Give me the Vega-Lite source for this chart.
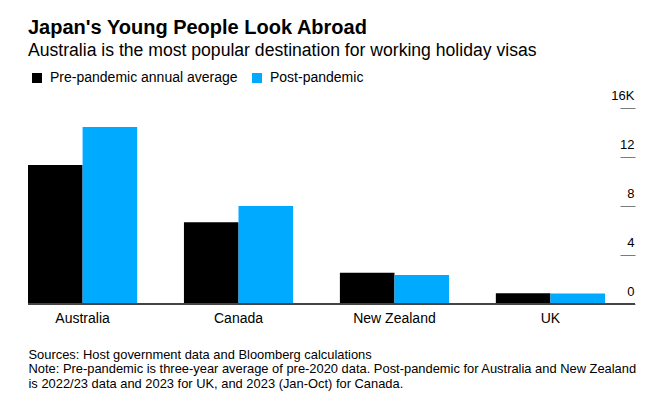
{
  "$schema": "https://vega.github.io/schema/vega-lite/v6.json",
  "width": 607,
  "height": 196,
  "autosize": {"type": "none"},
  "padding": {"left": 28, "top": 108, "right": 21, "bottom": 92},
  "background": "white",
  "title": {
    "text": "Japan's Young People Look Abroad",
    "subtitle": "Australia is the most popular destination for working holiday visas",
    "anchor": "start",
    "frame": "group",
    "offset": 11,
    "font": "Liberation Sans",
    "fontSize": 20,
    "fontWeight": "bold",
    "color": "#000000",
    "subtitleFont": "Liberation Sans",
    "subtitleFontSize": 17.6,
    "subtitleColor": "#000000",
    "subtitlePadding": 4
  },
  "data": {
    "values": [
      {"country": "Australia", "period": "Pre-pandemic annual average", "value": 11.35},
      {"country": "Australia", "period": "Post-pandemic", "value": 14.45},
      {"country": "Canada", "period": "Pre-pandemic annual average", "value": 6.67},
      {"country": "Canada", "period": "Post-pandemic", "value": 8.0},
      {"country": "New Zealand", "period": "Pre-pandemic annual average", "value": 2.55},
      {"country": "New Zealand", "period": "Post-pandemic", "value": 2.37},
      {"country": "UK", "period": "Pre-pandemic annual average", "value": 0.87},
      {"country": "UK", "period": "Post-pandemic", "value": 0.85}
    ]
  },
  "layer": [
    {
      "mark": {"type": "bar"},
      "encoding": {
        "x": {
          "field": "country",
          "type": "nominal",
          "sort": ["Australia", "Canada", "New Zealand", "UK"],
          "scale": {"range": [0, 577], "paddingInner": 0.3, "paddingOuter": 0},
          "axis": {
            "title": [
              "Sources: Host government data and Bloomberg calculations",
              "Note: Pre-pandemic is three-year average of pre-2020 data. Post-pandemic for Australia and New Zealand",
              "is 2022/23 data and 2023 for UK, and 2023 (Jan-Oct) for Canada."
            ],
            "orient": "bottom",
            "domain": false,
            "ticks": false,
            "grid": false,
            "labelAngle": 0,
            "labelPadding": 7,
            "labelFont": "Liberation Sans",
            "labelFontSize": 14,
            "labelColor": "#000000",
            "titleFont": "Liberation Sans",
            "titleFontSize": 12.9,
            "titleFontWeight": "normal",
            "titleColor": "#000000",
            "titleAnchor": "start",
            "titleAlign": "left",
            "titleX": 0,
            "titleY": 54,
            "titleBaseline": "alphabetic",
            "titleLineHeight": 14.5,
            "titleLimit": 0
          }
        },
        "xOffset": {
          "field": "period",
          "type": "nominal",
          "sort": ["Pre-pandemic annual average", "Post-pandemic"],
          "scale": {"paddingInner": 0, "paddingOuter": 0}
        },
        "y": {
          "field": "value",
          "type": "quantitative",
          "scale": {"domain": [0, 16], "nice": false},
          "axis": {
            "orient": "right",
            "title": null,
            "values": [0, 4, 8, 12, 16],
            "domain": false,
            "grid": false,
            "tickSize": -15,
            "tickColor": "#7a7a7a",
            "tickWidth": 1,
            "labelAlign": "right",
            "labelBaseline": "alphabetic",
            "labelOffset": -9,
            "labelPadding": 14,
            "labelFont": "Liberation Sans",
            "labelFontSize": 13,
            "labelColor": "#000000",
            "labelExpr": "datum.value == 16 ? '16K' : datum.label"
          }
        },
        "color": {
          "field": "period",
          "type": "nominal",
          "scale": {
            "domain": ["Pre-pandemic annual average", "Post-pandemic"],
            "range": ["#000000", "#00aaff"]
          },
          "legend": {
            "orient": "none",
            "legendX": 2,
            "legendY": -37,
            "direction": "horizontal",
            "title": null,
            "symbolType": "square",
            "symbolSize": 100,
            "symbolStrokeWidth": 0,
            "symbolOpacity": 1,
            "labelFont": "Liberation Sans",
            "labelFontSize": 14,
            "labelColor": "#000000",
            "labelLimit": 0,
            "labelOffset": 6,
            "columnPadding": 12,
            "padding": 0
          }
        }
      }
    },
    {
      "mark": {"type": "rule", "color": "#444444", "strokeWidth": 1.5},
      "encoding": {"y": {"datum": 0}}
    }
  ],
  "config": {"view": {"stroke": null}}
}
